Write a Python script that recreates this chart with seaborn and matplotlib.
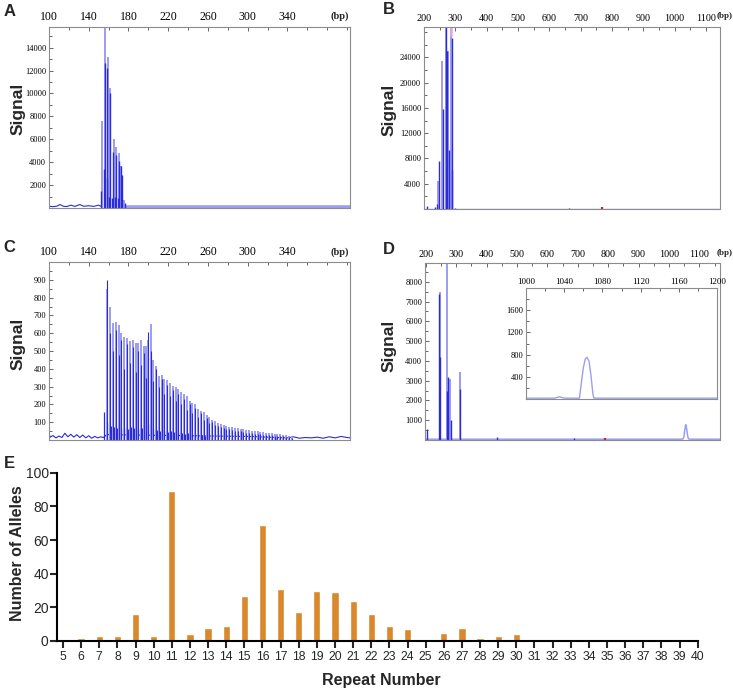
import numpy as np
import pandas as pd
import seaborn as sns
import matplotlib.pyplot as plt

# ---------------- data ----------------
# A: fragment analysis, 100-400 bp
A_light_pos = [153.2, 156.7, 158.9, 161.6, 165.0, 167.5, 170.2, 172.9, 175.9]
A_light_sig = [7600, 15800, 13200, 10500, 6000, 5300, 4800, 3700, 700]
A_dark_pos = [152.2, 154.9, 156.0, 157.9, 158.7, 160.4, 161.4, 163.5, 164.3,
              166.3, 167.8, 169.2, 170.5, 172.2, 173.2, 176.2]
A_dark_sig = [1500, 3400, 12700, 2600, 12200, 1000, 10000, 900, 4900,
              1000, 4600, 900, 4100, 3700, 2900, 400]
A_noise_x = [100, 104, 108, 111, 115, 118, 122, 126, 131, 135, 140, 145, 150, 152]
A_noise_y = [150, 120, 160, 300, 140, 130, 250, 140, 300, 150, 200, 140, 250, 150]
A_base_x = [176, 403]
A_base_y = [110, 110]

# B: 200-1140 bp
B_dark_pos = [210, 236, 240, 247, 262, 271, 273, 279, 288, 290, 300, 663]
B_dark_sig = [500, 300, 800, 7600, 15800, 32000, 25000, 9400, 27100, 6200, 150, 150]
B_light_pos = [246, 259, 270, 276, 283, 286]
B_light_sig = [4500, 23400, 32000, 25000, 1600, 32000]
B_pink_pos = [286]
B_pink_lo = [27300]
B_pink_hi = [32000]
B_red_pos = [768]
B_red_sig = [300]

# C: ladder of stutter peaks
C_pos = [158.7, 161.4, 164.1, 167.1, 170.2, 172.8, 175.9, 178.5, 181.6, 184.3,
         187.3, 190.0, 192.6, 195.3, 197.7, 200.0, 202.7, 205.1, 207.8, 210.8,
         213.5, 216.1, 218.8, 221.9, 224.5, 227.6, 230.2, 232.9, 235.9, 238.6,
         241.7, 244.3, 247.4, 250.1, 253.1, 255.8, 258.8, 261.5, 264.5, 267.2,
         270.2, 272.9, 275.9, 278.6, 281.6, 284.3, 287.3, 290.0, 293.0, 295.7,
         298.7, 301.4, 304.4, 307.1, 310.1, 312.8, 315.8, 318.5, 321.5, 324.2,
         327.3, 329.9, 332.9, 335.6, 338.7, 341.4, 344.4]
C_light = [850, 745, 660, 665, 645, 600, 580, 575, 555, 560,
           545, 545, 560, 530, 530, 560, 650, 450, 415, 360,
           365, 340, 335, 320, 305, 300, 285, 270, 260, 245,
           220, 210, 200, 175, 165, 155, 140, 130, 115, 105,
           95, 92, 85, 80, 75, 72, 68, 65, 62, 60,
           58, 56, 53, 50, 48, 45, 43, 42, 40, 38,
           36, 35, 33, 30, 28, 25, 18]
C_dark = [900, 600, 500, 620, 480, 560, 400, 540, 430, 520,
          380, 500, 420, 490, 350, 605, 500, 330, 400, 300,
          340, 260, 310, 250, 280, 220, 260, 200, 230, 170,
          200, 150, 180, 130, 150, 110, 125, 95, 100, 85,
          80, 75, 70, 62, 60, 55, 52, 50, 48, 45,
          42, 42, 40, 36, 35, 32, 30, 30, 28, 26,
          25, 24, 22, 20, 18, 16, 12]
C_minor_pos = [155.6, 160.1, 162.8, 165.5, 168.5, 171.6, 174.2, 177.3, 179.9, 183.0,
               185.7, 188.7, 191.4, 194.0, 196.7, 199.1, 201.4, 204.1, 206.5, 209.2,
               212.2, 214.9, 217.5, 220.2, 223.3, 225.9, 229.0, 231.6, 234.3, 237.3,
               240.0, 243.1, 245.7, 248.8, 251.5, 254.5, 257.2, 260.2, 262.9]
C_minor_sig = [155, 95, 80, 75, 70, 80, 65, 70, 60, 75,
               65, 70, 60, 65, 75, 85, 90, 70, 60, 55,
               50, 55, 50, 45, 50, 45, 40, 45, 40, 35,
               40, 35, 30, 35, 30, 28, 25, 25, 22]
C_noise_x = [100, 101, 104, 107, 110, 113, 116, 119, 122, 125, 128, 131, 134, 137,
             140, 143, 146, 149, 152, 155, 158, 300, 310, 320, 330, 340, 346, 352,
             358, 364, 370, 376, 382, 388, 394, 400, 403]
C_noise_y = [45, 15, 25, 12, 22, 14, 38, 18, 32, 16, 30, 14, 28, 12, 24, 10, 20,
             12, 18, 14, 30, 20, 18, 16, 14, 12, 18, 10, 14, 12, 16, 10, 18, 12,
             20, 14, 12]

# D: 200-1165 bp with inset 1000-1200 bp
D_dark_pos = [205, 244, 246, 268, 273, 282, 311, 434, 689]
D_dark_sig = [540, 7400, 4200, 2500, 3200, 1000, 2600, 150, 120]
D_light_pos = [245, 270.6, 280, 311]
D_light_sig = [7500, 9500, 3100, 3450]
D_red_pos = [791]
D_red_sig = [90]
D_broad_x = [197, 1040, 1046, 1049, 1052, 1055, 1058, 1061, 1064, 1070, 1168]
D_broad_y = [40, 40, 50, 150, 500, 780, 600, 250, 60, 40, 40]
inset_x = [1000, 1030, 1033, 1035, 1037, 1040, 1056, 1058, 1060, 1062, 1064,
           1066, 1068, 1070, 1071, 1200]
inset_y = [15, 15, 30, 40, 30, 15, 15, 300, 560, 720, 750, 680, 430, 100, 15, 15]

# E: allele distribution
repeats = list(range(5, 41))
alleles = [1, 2, 3, 3, 16, 3, 89, 4, 8, 9, 27, 69, 31, 17, 30, 29, 24, 16, 9, 7,
           0, 5, 8, 2, 3, 4, 1, 1, 0, 0, 0, 0, 0, 1, 0, 0]

# ---------------- styling ----------------
sns.set_style("ticks")
plt.rcParams['font.family'] = ['Liberation Sans', 'DejaVu Sans']

DARK = "#2b2bd8"
LIGHT = "#9d9df2"
SERIF = 'Liberation Serif'

W, H = 733, 691
fig = plt.figure(figsize=(W / 100, H / 100), dpi=100)


def box(l, t, r, b):
    return [l / W, 1 - b / H, (r - l) / W, (b - t) / H]


def ftext(x, y, s, **kw):
    fig.text(x / W, 1 - y / H, s, **kw)


def egram(rect, xlim, ylim, xmaj, xmin, ymaj, ymin, xfs=8.5, yfs=6, xpad=3):
    ax = fig.add_axes(box(*rect))
    ax.set_xlim(*xlim)
    ax.set_ylim(*ylim)
    ax.xaxis.tick_top()
    ax.set_xticks(xmaj)
    ax.set_xticks(xmin, minor=True)
    ax.set_yticks(ymaj)
    ax.set_yticks(ymin, minor=True)
    ax.tick_params(which='both', direction='in', color='#666666', width=0.7,
                   labelcolor='black', labelfontfamily=SERIF)
    ax.tick_params(axis='x', which='major', length=3, labelsize=xfs, pad=xpad)
    ax.tick_params(axis='y', which='major', length=3, labelsize=yfs, pad=2)
    ax.tick_params(which='minor', length=2)
    ax.tick_params(top=True, bottom=False, left=True, right=False)
    for s in ax.spines.values():
        s.set_color('#8c8c8c')
        s.set_linewidth(0.8)
    return ax


# ---------------- A ----------------
axA = egram((49, 27, 350, 208), (100, 403), (0, 15800),
            list(range(100, 341, 40)), list(range(100, 401, 20)),
            list(range(2000, 14001, 2000)), list(range(1000, 15001, 1000)))
sns.lineplot(x=A_noise_x, y=A_noise_y, ax=axA, color=DARK, lw=0.8, estimator=None, sort=False)
sns.lineplot(x=A_base_x, y=A_base_y, ax=axA, color=LIGHT, lw=2.6, estimator=None, sort=False)
axA.vlines(A_light_pos, 0, A_light_sig, colors=LIGHT, lw=1.4)
axA.vlines(A_dark_pos, 0, A_dark_sig, colors=DARK, lw=1.0)

# ---------------- B ----------------
axB = egram((424, 27, 720, 209), (200, 1145), (0, 28800),
            list(range(200, 1101, 100)), list(range(200, 1101, 50)),
            list(range(4000, 24001, 4000)), list(range(2000, 28001, 2000)),
            xfs=7.3)
sns.lineplot(x=[200, 1145], y=[60, 60], ax=axB, color=LIGHT, lw=1.0, estimator=None)
axB.vlines(B_light_pos, 0, B_light_sig, colors=LIGHT, lw=1.4)
axB.vlines(B_dark_pos, 0, B_dark_sig, colors=DARK, lw=1.0)
axB.vlines(B_pink_pos, B_pink_lo, B_pink_hi, colors="#e6a6e6", lw=1.8)
axB.vlines(B_red_pos, 0, B_red_sig, colors="#cc2222", lw=1.6)

# ---------------- C ----------------
axC = egram((49, 262, 350, 440), (100, 403), (0, 1000),
            list(range(100, 341, 40)), list(range(100, 401, 20)),
            list(range(100, 901, 100)), list(range(50, 1000, 50)))
sns.lineplot(x=C_noise_x, y=C_noise_y, ax=axC, color=DARK, lw=0.8, estimator=None, sort=False)
axC.vlines(C_minor_pos, 0, C_minor_sig, colors=DARK, lw=0.9)
axC.vlines(C_pos, 0, C_light, colors=LIGHT, lw=1.4)
axC.vlines(C_pos, 0, C_dark, colors=DARK, lw=0.8)

# ---------------- D ----------------
axD = egram((425, 263, 720, 440), (197, 1168), (0, 8950),
            list(range(200, 1101, 100)), list(range(200, 1151, 50)),
            list(range(1000, 8001, 1000)), list(range(500, 8501, 500)),
            xfs=7.3)
sns.lineplot(x=D_broad_x, y=D_broad_y, ax=axD, color=LIGHT, lw=1.1, estimator=None, sort=False)
axD.vlines(D_light_pos, 0, D_light_sig, colors=LIGHT, lw=1.4)
axD.vlines(D_dark_pos, 0, D_dark_sig, colors=DARK, lw=1.0)
axD.vlines(D_red_pos, 0, D_red_sig, colors="#cc2222", lw=1.6)

axI = egram((526, 288, 717, 399), (1000, 1200), (0, 2000),
            list(range(1000, 1201, 40)), list(range(1000, 1201, 20)),
            list(range(400, 1601, 400)), list(range(200, 2000, 200)),
            xfs=6.5, yfs=6, xpad=1.5)
sns.lineplot(x=inset_x, y=inset_y, ax=axI, color=LIGHT, lw=1.0, estimator=None, sort=False)

# ---------------- E ----------------
axE = fig.add_axes(box(57, 472.7, 697.7, 641))
dfE = pd.DataFrame({'repeat': repeats, 'alleles': alleles})
sns.barplot(data=dfE, x='repeat', y='alleles', native_scale=True, width=0.4,
            color="#d9882b", saturation=1, ax=axE)
axE.set_xlim(4.67, 40)
axE.set_ylim(0, 100)
axE.set_xticks(repeats)
axE.set_xticklabels([str(r) for r in repeats])
axE.set_yticks(range(0, 101, 20))
axE.set_xlabel('')
axE.set_ylabel('')
sns.despine(ax=axE)
for s in ('left', 'bottom'):
    axE.spines[s].set_linewidth(1.5)
    axE.spines[s].set_color('black')
axE.tick_params(axis='x', length=5, width=1.5, labelsize=8.8, pad=2)
axE.tick_params(axis='y', length=5, width=1.5, labelsize=10, pad=1)

# ---------------- labels ----------------
for x, y, fs in [(340, 16, 7.5), (724.5, 16, 6.5), (340, 252, 7.5), (724.5, 253, 6.5)]:
    ftext(x, y, '(bp)', ha='center', va='center', fontsize=fs,
          fontweight='bold', family=SERIF)
for x, y in [(18, 109), (389, 110), (18, 344), (389, 346)]:
    ftext(x, y, 'Signal', rotation=90, ha='center', va='center',
          fontsize=12.5, fontweight='bold')
for x, y, s in [(9.5, 11, 'A'), (389, 9, 'B'), (9.5, 248, 'C'), (389, 250, 'D'),
                (9.5, 463, 'E')]:
    ftext(x, y, s, ha='center', va='center', fontsize=12, fontweight='bold')
ftext(18, 553, 'Number of Alleles', rotation=90, ha='center', va='center',
      fontsize=11.5, fontweight='bold')
ftext(381, 680, 'Repeat Number', ha='center', va='center', fontsize=11.5,
      fontweight='bold')

fig.savefig('out.png', dpi=100)
